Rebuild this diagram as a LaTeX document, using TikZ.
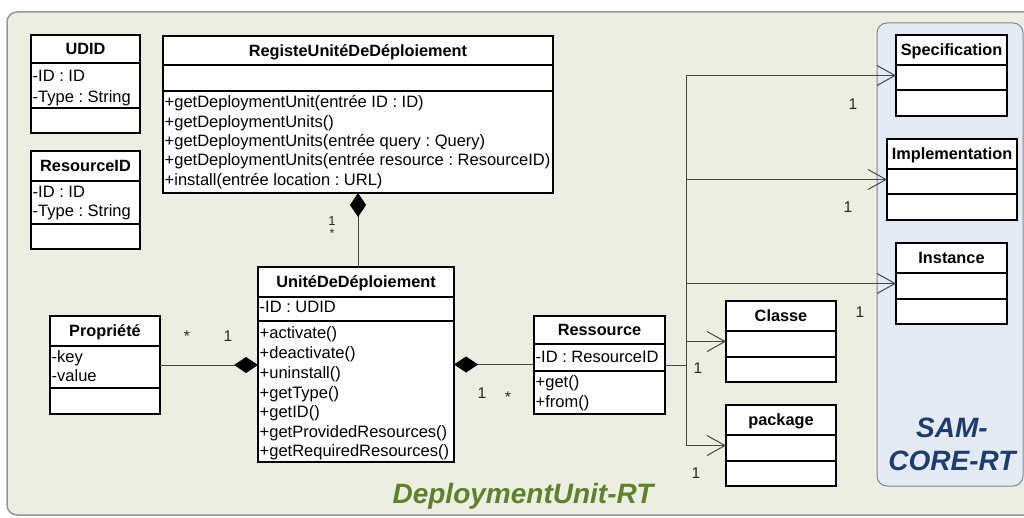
\documentclass[tikz,border=0pt]{standalone}
\usepackage{fontspec}
\setmainfont{Liberation Sans}
\usetikzlibrary{arrows.meta,calc}
\definecolor{outerfill}{RGB}{235,238,224}
\definecolor{outerdraw}{RGB}{150,150,150}
\definecolor{samfill}{RGB}{228,234,244}
\definecolor{samdraw}{RGB}{125,135,150}
\definecolor{greentext}{RGB}{95,128,45}
\definecolor{bluetext}{RGB}{31,61,107}
\definecolor{connc}{RGB}{70,70,70}
\tikzset{compd/.tip={Diamond[length=24pt,width=16pt,color=black]},
         navb/.tip={Straight Barb[length=18pt,width=20pt]}}
\newcommand{\umlbox}[8]{%
  \node[classbox, minimum width={#4-#2}, minimum height={#5-#3}] (#1) at (#2,#3) {};
  \draw[sepline] (#1.west |- 0,#6) -- (#1.east |- 0,#6);
  \draw[sepline] (#1.west |- 0,#7) -- (#1.east |- 0,#7);
  \node[titletext] (#1-title) at ({(#2+#4)/2},{(#3+#6)/2+5.8}) {#8};
}
\frenchspacing
\begin{document}
\begin{tikzpicture}[x=1pt,y=-1pt,
  classbox/.style={draw=black, fill=white, line width=1.3pt, anchor=north west, inner sep=0pt, outer sep=0pt},
  sepline/.style={draw=black, line width=1.3pt},
  titletext/.style={anchor=base, inner sep=0pt, font=\fontsize{16.3}{19}\selectfont\bfseries},
  rowtext/.style={anchor=base west, inner sep=0pt, font=\fontsize{16.5}{19}\selectfont},
  mult/.style={anchor=base, inner sep=0pt, text=black!85, font=\fontsize{15.5}{18}\selectfont},
  conn/.style={draw=connc, line width=1pt},
  outerbox/.style={draw=outerdraw, fill=outerfill, line width=1.5pt, rounded corners=10pt},
  sambox/.style={draw=samdraw, fill=samfill, line width=1pt, rounded corners=10pt, anchor=north west, inner sep=0pt, outer sep=0pt}
]
\useasboundingbox (0,0) rectangle (1024,518);
\fill[white] (0,0) rectangle (1024,518);
\begin{scope}
\clip (0,0) rectangle (1024,518);
\draw[outerbox] (7,12) rectangle (1045,515);
\node[sambox, minimum width=146, minimum height=463] (sam) at (877,23) {};
\end{scope}

% classes
\umlbox{udid}{31}{35}{140}{133}{63}{108}{UDID}
\node[rowtext] (udid-a1) at (32.5,81.5) {-ID : ID};
\node[rowtext] (udid-a2) at (32.5,102.5) {-Type : String};

\umlbox{resid}{31}{151}{140}{249}{181}{224}{ResourceID}
\node[rowtext] (resid-a1) at (32.5,197.5) {-ID : ID};
\node[rowtext] (resid-a2) at (32.5,216.5) {-Type : String};

\umlbox{reg}{163}{36}{553}{193}{65}{91}{RegisteUnitéDeDéploiement}
\node[rowtext] (reg-m1) at (164.5,107.5) {+getDeploymentUnit(entrée ID : ID)};
\node[rowtext] (reg-m2) at (164.5,127.5) {+getDeploymentUnits()};
\node[rowtext] (reg-m3) at (164.5,146.5) {+getDeploymentUnits(entrée query : Query)};
\node[rowtext] (reg-m4) at (164.5,165.5) {+getDeploymentUnits(entrée resource : ResourceID)};
\node[rowtext] (reg-m5) at (164.5,185.5) {+install(entrée location : URL)};

\umlbox{unite}{258}{267}{454}{462}{297}{321}{UnitéDeDéploiement}
\node[rowtext] (unite-a1) at (259.5,312.5) {-ID : UDID};
\node[rowtext] (unite-m1) at (259.5,338.5) {+activate()};
\node[rowtext] (unite-m2) at (259.5,358.5) {+deactivate()};
\node[rowtext] (unite-m3) at (259.5,378.5) {+uninstall()};
\node[rowtext] (unite-m4) at (259.5,398.5) {+getType()};
\node[rowtext] (unite-m5) at (259.5,417.5) {+getID()};
\node[rowtext] (unite-m6) at (259.5,437.5) {+getProvidedResources()};
\node[rowtext] (unite-m7) at (259.5,456.5) {+getRequiredResources()};

\umlbox{prop}{50}{316}{160}{414}{346}{388}{Propriété}
\node[rowtext] (prop-a1) at (51.5,362.5) {-key};
\node[rowtext] (prop-a2) at (51.5,381.5) {-value};

\umlbox{ress}{534}{316}{665}{414}{344}{371}{Ressource}
\node[rowtext] (ress-a1) at (535.5,362.5) {-ID : ResourceID};
\node[rowtext] (ress-m1) at (535.5,387.5) {+get()};
\node[rowtext] (ress-m2) at (535.5,407.5) {+from()};

\umlbox{classe}{726}{301}{836}{382}{331}{357}{Classe}
\umlbox{pkg}{726}{405}{836}{486}{435}{461}{package}
\umlbox{spec}{896}{35}{1007}{116}{65}{90}{Specification}
\umlbox{impl}{887}{139}{1017}{220}{169}{194}{Implementation}
\umlbox{inst}{896}{243}{1007}{324}{273}{299}{Instance}

% connectors
\draw[conn, {compd}-] (reg.south) -- (reg.south |- unite.north);
\draw[conn, -{compd}] (prop.east) -- (prop.east -| unite.west);
\draw[conn, {compd}-] (unite.east) -- (unite.east -| ress.west);
\draw[conn] (ress.east) -- ++(21,0) coordinate (jn);
\draw[conn, -{navb}] (jn) |- (spec.west);
\draw[conn, -{navb}] (jn) |- (impl.west);
\draw[conn, -{navb}] (jn) |- (inst.west);
\draw[conn, -{navb}] (jn) |- (classe.west);
\draw[conn, -{navb}] (jn) |- (pkg.west);

% multiplicities
\node[mult, font=\fontsize{13}{15}\selectfont] (m-reg1) at (332,226) {1};
\node[mult, font=\fontsize{12}{14}\selectfont] (m-reg2) at (332,238) {*};
\node[mult] (m-prop) at (187,341) {*};
\node[mult] (m-unp) at (228,341.5) {1};
\node[mult] (m-unr) at (482,398.5) {1};
\node[mult] (m-ress) at (508,402) {*};
\node[mult] (m-spec) at (853,109.5) {1};
\node[mult] (m-impl) at (848,212.5) {1};
\node[mult] (m-inst) at (860,317.5) {1};
\node[mult] (m-cls) at (698,373.5) {1};
\node[mult] (m-pkg) at (696,478.5) {1};

% package titles
\node[anchor=base, inner sep=0pt, text=greentext, font=\fontsize{28}{32}\selectfont\bfseries\itshape] (dulabel) at (523,503) {DeploymentUnit-RT};
\node[align=center, inner sep=0pt, text=bluetext, font=\fontsize{28}{33}\selectfont\bfseries\itshape] (samlabel) at (952,444) {SAM-\\CORE-RT};
\end{tikzpicture}
\end{document}
